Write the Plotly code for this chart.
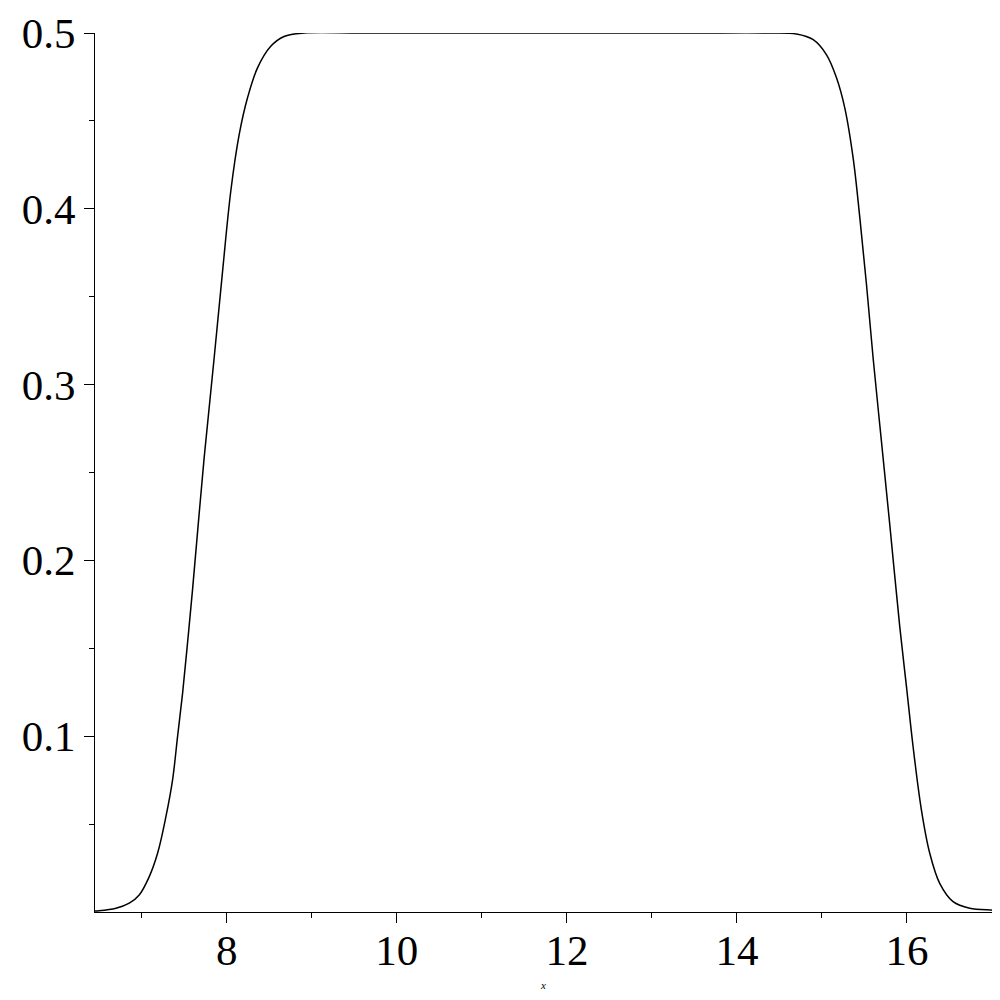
"""Flat-topped pulse curve, Maple-style axes, redrawn with Plotly."""

import plotly.graph_objects as go

# curve samples
x_vals = [
    6.45, 6.482, 6.696, 6.853, 6.97, 7.087, 7.186, 7.284, 7.362, 7.421,
    7.48, 7.538, 7.597, 7.733, 7.851, 7.95, 8.047, 8.145, 8.243,
    8.36, 8.517, 8.673, 8.908, 9.574,
    10.5, 11.5, 12.5, 13.5, 14.389,
    14.70, 14.897, 15.054, 15.172, 15.269, 15.367, 15.446, 15.524, 15.602,
    15.70, 15.798, 15.915, 15.994, 16.072, 16.170, 16.268, 16.385,
    16.542, 16.738, 16.99, 17.0,
]
y_vals = [
    0.0005, 0.0006, 0.0021, 0.005, 0.0097, 0.020, 0.0334, 0.0542, 0.075, 0.0998,
    0.1244, 0.1529, 0.1832, 0.258, 0.315, 0.3643, 0.41, 0.442, 0.463,
    0.480, 0.4924, 0.498, 0.5, 0.5,
    0.5, 0.5, 0.5, 0.5, 0.5,
    0.4994, 0.4962, 0.4876, 0.4744, 0.4573, 0.4288, 0.3947, 0.3568, 0.315,
    0.2676, 0.2202, 0.1623, 0.1282, 0.094, 0.058, 0.0334, 0.0163,
    0.0059, 0.0021, 0.0011, 0.001,
]

x_major = [8, 10, 12, 14, 16]
x_minor = [7, 9, 11, 13, 15, 17]
y_major = [0.1, 0.2, 0.3, 0.4, 0.5]
y_labels = ["0.1", "0.2", "0.3", "0.4", "0.5"]
y_minor = [0.05, 0.15, 0.25, 0.35, 0.45]

tick_font = dict(family="Liberation Serif, Times New Roman, serif", size=43, color="black")

fig = go.Figure()
fig.add_trace(go.Scatter(
    x=x_vals,
    y=y_vals,
    mode="lines",
    line=dict(color="black", width=1.5, shape="spline", smoothing=1),
    cliponaxis=False,
    showlegend=False,
))

# the page body adds an 8px offset, so the figure is 992px and margins are shifted
fig.update_layout(
    width=992,
    height=992,
    margin=dict(l=87, r=8, t=25, b=88),
    paper_bgcolor="white",
    plot_bgcolor="white",
    showlegend=False,
    xaxis=dict(
        range=[6.45, 17],
        automargin=False,
        tickvals=x_major,
        ticktext=[str(v) for v in x_major],
        ticks="outside",
        ticklen=10,
        tickwidth=1,
        tickcolor="black",
        tickfont=tick_font,
        ticklabelstandoff=-10,
        minor=dict(tickvals=x_minor, ticks="outside", ticklen=5, tickwidth=1, tickcolor="black"),
        showline=True,
        linecolor="black",
        linewidth=1,
        showgrid=False,
        zeroline=False,
        title=dict(
            text="<i>x</i>",
            font=dict(family="Liberation Serif, serif", size=11, color="black"),
            standoff=8,
        ),
    ),
    yaxis=dict(
        range=[0, 0.5],
        automargin=False,
        tickvals=y_major,
        ticktext=y_labels,
        ticks="outside",
        ticklen=10,
        tickwidth=1,
        tickcolor="black",
        tickfont=tick_font,
        minor=dict(tickvals=y_minor, ticks="outside", ticklen=5, tickwidth=1, tickcolor="black"),
        showline=True,
        linecolor="black",
        linewidth=1,
        showgrid=False,
        zeroline=False,
    ),
)

fig.write_html("out.html")
